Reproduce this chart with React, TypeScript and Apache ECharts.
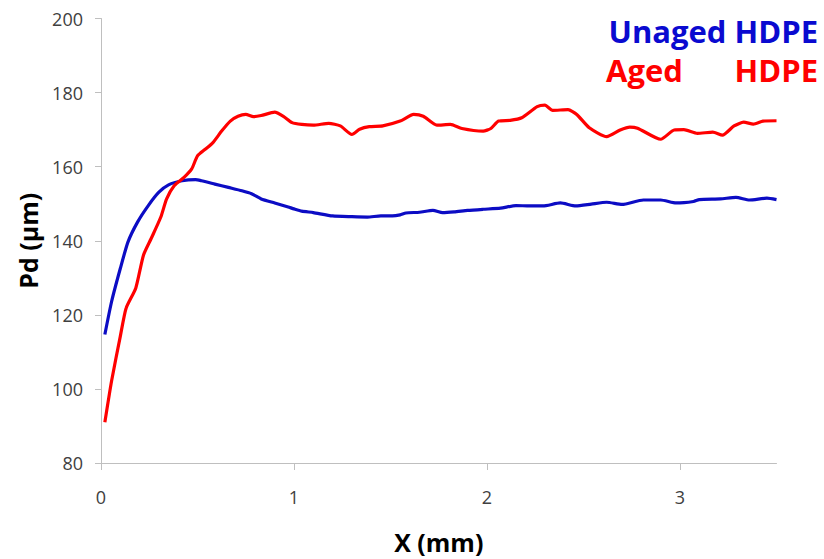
import React, { useEffect, useRef } from "react";
import * as echarts from "echarts";

const unagedX = [0.02, 0.055, 0.10, 0.14, 0.19, 0.245, 0.30, 0.35, 0.42, 0.49, 0.52, 0.59, 0.66, 0.73, 0.78, 0.83, 0.90, 0.97, 1.00, 1.04, 1.10, 1.20, 1.30, 1.38, 1.45, 1.51, 1.55, 1.58, 1.65, 1.72, 1.77, 1.83, 1.90, 1.98, 2.07, 2.15, 2.22, 2.29, 2.38, 2.46, 2.54, 2.62, 2.70, 2.81, 2.90, 2.98, 3.07, 3.10, 3.21, 3.29, 3.36, 3.45, 3.50];
const unagedY = [114.7, 123.6, 132.5, 139.7, 145.1, 149.5, 153.1, 155.1, 156.2, 156.5, 156.2, 155.3, 154.4, 153.5, 152.7, 151.3, 150.2, 149.1, 148.6, 148.0, 147.6, 146.7, 146.5, 146.4, 146.7, 146.7, 147.0, 147.5, 147.7, 148.2, 147.6, 147.8, 148.2, 148.5, 148.8, 149.5, 149.4, 149.4, 150.2, 149.4, 149.9, 150.4, 149.8, 151.0, 151.0, 150.2, 150.6, 151.1, 151.3, 151.7, 151.0, 151.5, 151.1];

const agedX = [0.02, 0.055, 0.10, 0.13, 0.18, 0.22, 0.26, 0.31, 0.34, 0.38, 0.43, 0.47, 0.50, 0.54, 0.58, 0.625, 0.67, 0.71, 0.75, 0.79, 0.83, 0.90, 0.945, 0.99, 1.04, 1.10, 1.18, 1.24, 1.30, 1.34, 1.39, 1.46, 1.55, 1.62, 1.67, 1.74, 1.81, 1.87, 1.98, 2.02, 2.06, 2.12, 2.18, 2.26, 2.30, 2.34, 2.42, 2.465, 2.53, 2.62, 2.69, 2.74, 2.78, 2.90, 2.97, 3.02, 3.09, 3.17, 3.22, 3.28, 3.33, 3.38, 3.43, 3.50];
const agedY = [91.0, 102.2, 114.2, 121.8, 127.2, 136.1, 140.6, 146.4, 151.3, 154.9, 157.1, 159.4, 162.9, 164.7, 166.5, 169.6, 172.3, 173.6, 174.1, 173.5, 173.8, 174.7, 173.6, 171.9, 171.4, 171.2, 171.7, 171.0, 168.7, 170.1, 170.8, 171.0, 172.3, 174.1, 173.6, 171.2, 171.4, 170.3, 169.6, 170.3, 172.3, 172.5, 173.2, 176.2, 176.6, 175.2, 175.4, 174.1, 170.5, 168.1, 169.9, 170.7, 170.4, 167.4, 169.9, 170.0, 169.0, 169.3, 168.5, 171.0, 172.0, 171.5, 172.3, 172.4];

const xTicks = [0, 1, 2, 3];
const yTicks = [80, 100, 120, 140, 160, 180, 200];

const seriesNames = ["Unaged HDPE", "Aged HDPE"];
const xTitle = "X (mm)";
const yTitle = "Pd (µm)";

export default function App() {
  const ref = useRef<HTMLDivElement>(null);
  useEffect(() => {
    if (!ref.current) return;
    const chart = echarts.init(ref.current, undefined, { renderer: "svg" });
    const pair = (xs: number[], ys: number[]) => xs.map((x, i) => [x, ys[i]]);
    const font = "'Open Sans', 'DejaVu Sans', sans-serif";
    chart.setOption({
      animation: false,
      backgroundColor: "#ffffff",
      grid: { left: 101, top: 18.5, right: 47.5, bottom: 93, containLabel: false },
      xAxis: {
        type: "value",
        min: 0,
        max: 3.5,
        interval: 1,
        name: xTitle,
        nameLocation: "middle",
        nameGap: 66,
        nameTextStyle: { fontFamily: font, fontWeight: "bold", fontSize: 25, color: "#000" },
        axisLine: { show: true, lineStyle: { color: "#bfbfbf", width: 1 } },
        axisTick: { show: true, length: 7, lineStyle: { color: "#bfbfbf" }, customValues: xTicks },
        axisLabel: { fontFamily: font, fontSize: 18, color: "#404040", margin: 25, customValues: xTicks },
        splitLine: { show: false },
      },
      yAxis: {
        type: "value",
        min: 80,
        max: 200,
        interval: 20,
        name: yTitle,
        nameLocation: "middle",
        nameGap: 61,
        nameRotate: 90,
        nameTextStyle: { fontFamily: font, fontWeight: "bold", fontSize: 25, color: "#000" },
        axisLine: { show: true, lineStyle: { color: "#bfbfbf", width: 1 } },
        axisTick: { show: true, length: 6, lineStyle: { color: "#bfbfbf" }, customValues: yTicks },
        axisLabel: { fontFamily: font, fontSize: 18, color: "#404040", margin: 18, customValues: yTicks },
        splitLine: { show: false },
      },
      graphic: [
        {
          type: "text",
          right: 6,
          top: 15,
          style: { text: "Unaged HDPE", fill: "#0a0ad0", font: `bold 31px ${font}` },
        },
        {
          type: "text",
          left: 606,
          top: 54,
          style: { text: "Aged", fill: "#ff0000", font: `bold 31px ${font}` },
        },
        {
          type: "text",
          right: 6,
          top: 54,
          style: { text: "HDPE", fill: "#ff0000", font: `bold 31px ${font}` },
        },
      ],
      series: [
        {
          name: seriesNames[0],
          type: "line",
          data: pair(unagedX, unagedY),
          showSymbol: false,
          smooth: 0.2,
          lineStyle: { color: "#0c0cc4", width: 3.2 },
          itemStyle: { color: "#0c0cc4" },
        },
        {
          name: seriesNames[1],
          type: "line",
          data: pair(agedX, agedY),
          showSymbol: false,
          smooth: 0.2,
          lineStyle: { color: "#ff0000", width: 3.2 },
          itemStyle: { color: "#ff0000" },
        },
      ],
    });
    return () => chart.dispose();
  }, []);
  return <div ref={ref} style={{ position: "absolute", left: 0, top: 0, width: 824, height: 559 }} />;
}
